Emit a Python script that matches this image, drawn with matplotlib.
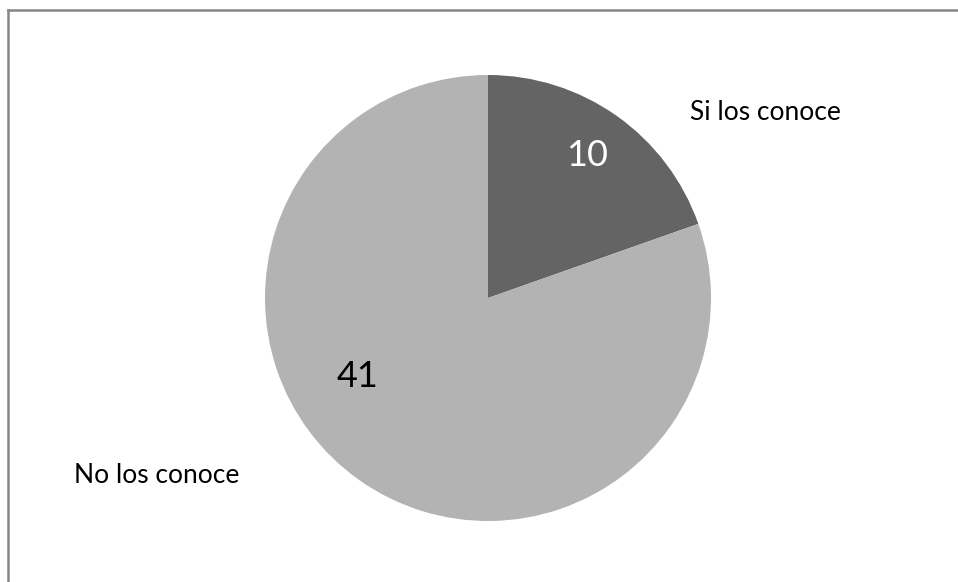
import matplotlib
matplotlib.use('Agg')
import matplotlib.pyplot as plt
from matplotlib.lines import Line2D

categorias = ['Si los conoce', 'No los conoce']
valores = [10, 41]
colores = ['#646464', '#b3b3b3']

# posiciones de las etiquetas (coordenadas del eje, radio = 1)
pos_valor = [(0.444, 0.641), (-0.587, -0.354)]
color_valor = ['white', 'black']
pos_categoria = [(1.242, 0.834), (-1.484, -0.798)]

plt.rcParams['font.family'] = ['Lato', 'DejaVu Sans']

W, H = 958, 582
fig = plt.figure(figsize=(W / 100, H / 100), dpi=100)

cx, cy, r = 488, 298, 223
ax = fig.add_axes([(cx - r) / W, (H - cy - r) / H, 2 * r / W, 2 * r / H])
ax.pie(valores, colors=colores, startangle=90, counterclock=False, radius=1,
       wedgeprops={'linewidth': 0})
ax.set_xlim(-1, 1)
ax.set_ylim(-1, 1)
ax.set_aspect('equal')
ax.axis('off')

for v, p, c in zip(valores, pos_valor, color_valor):
    ax.text(p[0], p[1], str(v), ha='center', va='center', fontsize=26, color=c)

for t, p in zip(categorias, pos_categoria):
    ax.text(p[0], p[1], t, ha='center', va='center', fontsize=19, color='black', clip_on=False)

# marco del grafico (solo borde superior e izquierdo visibles)
x0, y0 = 8 / W, 1 - 10 / H
fig.add_artist(Line2D([x0, 1], [y0, y0], transform=fig.transFigure, color='#868686', linewidth=1.8))
fig.add_artist(Line2D([x0, x0], [0, y0], transform=fig.transFigure, color='#868686', linewidth=1.8))

plt.savefig('out.png', dpi=100)
plt.close()
